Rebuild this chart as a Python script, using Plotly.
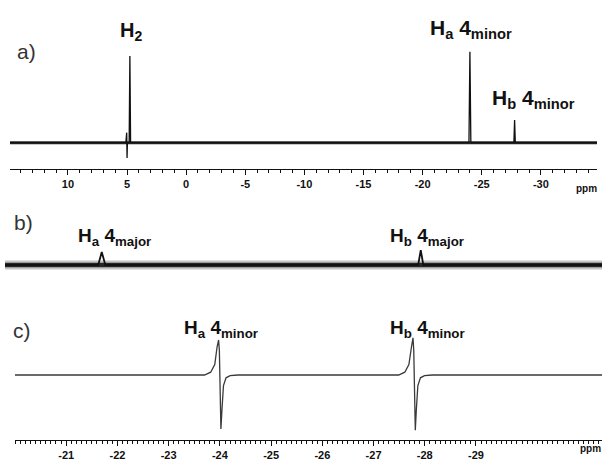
import plotly.graph_objects as go

W, H = 602, 461

# ---------------- data ----------------
# panel a: full-range 1H spectrum (ppm, relative intensity)
a_ppm = [14.9, 5.10, 5.03, 5.00, 4.97, 4.82, 4.76, 4.70,
         -23.92, -24.0, -24.08, -27.72, -27.78, -27.84, -34.75]
a_int = [0.0, 0.0, 0.11, -0.17, 0.0, 0.0, 0.955, 0.0,
         0.0, 1.0, 0.0, 0.0, 0.25, 0.0, 0.0]
a_noise_level = [0.0, 0.0]          # baseline level for the noise band
a_noise_ppm = [14.9, -34.75]
a_tick_vals = [10, 5, 0, -5, -10, -15, -20, -25, -30]
a_tick_text = ["10", "5", "0", "-5", "-10", "-15", "-20", "-25", "-30"]

# panel b: zoomed 1H spectrum (major isomer)
b_ppm = [-19.81, -21.63, -21.70, -21.77, -27.88, -27.93, -27.98, -31.47]
b_int = [0.0, 0.0, 0.93, 0.0, 0.0, 1.07, 0.0, 0.0]
b_noise_level = [0.0, 0.0]
b_noise_ppm = [-19.81, -31.47]

# panel c: simulated antiphase spectrum (minor isomer)
c_ppm = [-20.0,
         -23.70, -23.82, -23.90, -23.945, -23.975, -23.99, -24.00, -24.01, -24.02,
         -24.04, -24.07, -24.12, -24.20, -24.35,
         -27.49, -27.61, -27.69, -27.74, -27.77, -27.785, -27.795, -27.805, -27.815,
         -27.835, -27.865, -27.915, -27.995, -28.145,
         -31.46]
c_int = [0.0,
         0.0, 0.08, 0.30, 0.80, 1.00, 0.70, 0.0, -1.0, -1.54,
         -1.0, -0.30, -0.08, -0.02, 0.0,
         0.0, 0.08, 0.30, 0.80, 1.06, 0.70, 0.0, -1.0, -1.58,
         -1.0, -0.30, -0.08, -0.02, 0.0,
         0.0]
c_tick_vals = [-21, -22, -23, -24, -25, -26, -27, -28, -29]
c_tick_text = ["-21", "-22", "-23", "-24", "-25", "-26", "-27", "-28", "-29"]

# ---------------- helpers ----------------
def px(x):
    return x / W

def py(y):
    return 1 - y / H

FONT = "Liberation Sans, Arial, sans-serif"

fig = go.Figure()

# panel a
fig.add_trace(go.Scatter(x=a_noise_ppm, y=a_noise_level, mode="lines",
                         line=dict(color="#2a2a2a", width=3),
                         xaxis="x", yaxis="y", hoverinfo="skip"))
fig.add_trace(go.Scatter(x=a_ppm, y=a_int, mode="lines",
                         line=dict(color="#111111", width=1.3),
                         xaxis="x", yaxis="y"))
# panel b
fig.add_trace(go.Scatter(x=b_noise_ppm, y=b_noise_level, mode="lines",
                         line=dict(color="#c4c4c4", width=9),
                         xaxis="x2", yaxis="y2", hoverinfo="skip"))
fig.add_trace(go.Scatter(x=b_noise_ppm, y=b_noise_level, mode="lines",
                         line=dict(color="#262626", width=4.5),
                         xaxis="x2", yaxis="y2", hoverinfo="skip"))
fig.add_trace(go.Scatter(x=b_ppm, y=b_int, mode="lines",
                         line=dict(color="#111111", width=1.8),
                         xaxis="x2", yaxis="y2"))
# panel c
fig.add_trace(go.Scatter(x=c_ppm, y=c_int, mode="lines",
                         line=dict(color="#3a3a3a", width=1.3),
                         xaxis="x3", yaxis="y3"))

tickfont = dict(family=FONT, size=11, color="#111111", weight="bold")

fig.update_layout(
    width=W, height=H,
    margin=dict(l=0, r=0, t=0, b=0),
    paper_bgcolor="white", plot_bgcolor="white",
    showlegend=False,
    xaxis=dict(domain=[px(10), px(597)], range=[14.9, -34.75], anchor="y",
               showgrid=False, zeroline=False, showline=True, linecolor="#111",
               linewidth=1, ticks="outside", ticklen=5, tickwidth=1, tickcolor="#111",
               tickmode="array", tickvals=a_tick_vals, ticktext=a_tick_text,
               tickfont=tickfont,
               minor=dict(dtick=1, tick0=0, ticks="outside", ticklen=3,
                          tickcolor="#111", showgrid=False)),
    yaxis=dict(domain=[py(169), py(50)], range=[-0.29, 1.02], visible=False),
    xaxis2=dict(domain=[px(5), 1], range=[-19.81, -31.47], anchor="y2", visible=False),
    yaxis2=dict(domain=[py(275), py(245)], range=[-0.714, 1.43], visible=False),
    xaxis3=dict(domain=[px(15), 1], range=[-20.0, -31.46], anchor="y3",
                showgrid=False, zeroline=False, showline=True, linecolor="#111",
                linewidth=1, ticks="outside", ticklen=5, tickwidth=1, tickcolor="#111",
                tickmode="array", tickvals=c_tick_vals, ticktext=c_tick_text,
                tickfont=tickfont,
                minor=dict(dtick=0.1, tick0=0, ticks="outside", ticklen=3,
                           tickcolor="#111", showgrid=False)),
    yaxis3=dict(domain=[py(440), py(335)], range=[-1.857, 1.143], visible=False),
)

def label(text, x, y, size=17, bold=True, color="#111111"):
    fig.add_annotation(text=text, x=px(x), y=py(y), xref="paper", yref="paper",
                       showarrow=False, xanchor="center", yanchor="middle",
                       font=dict(family=FONT, size=size, color=color,
                                 weight="bold" if bold else "normal"))

# peak labels
label("H<sub>2</sub>", 131, 32, size=20)
label("H<sub>a</sub> 4<sub>minor</sub>", 471, 29, size=21)
label("H<sub>b</sub> 4<sub>minor</sub>", 533, 99, size=21)
label("H<sub>a</sub> 4<sub>major</sub>", 114, 237, size=19)
label("H<sub>b</sub> 4<sub>major</sub>", 427, 237, size=19)
label("H<sub>a</sub> 4<sub>minor</sub>", 221, 329, size=19)
label("H<sub>b</sub> 4<sub>minor</sub>", 427, 329, size=19)

# panel letters
label("a)", 26, 51, size=21, bold=False, color="#333333")
label("b)", 23, 222, size=21, bold=False, color="#333333")
label("c)", 22, 330, size=21, bold=False, color="#333333")

# axis unit labels
label("ppm", 586, 188, size=10)
label("ppm", 590, 448, size=10)

fig.write_html("out.html",
               config={"displayModeBar": False, "staticPlot": True},
               post_script="document.body.style.margin='0';document.body.style.overflow='hidden';")
